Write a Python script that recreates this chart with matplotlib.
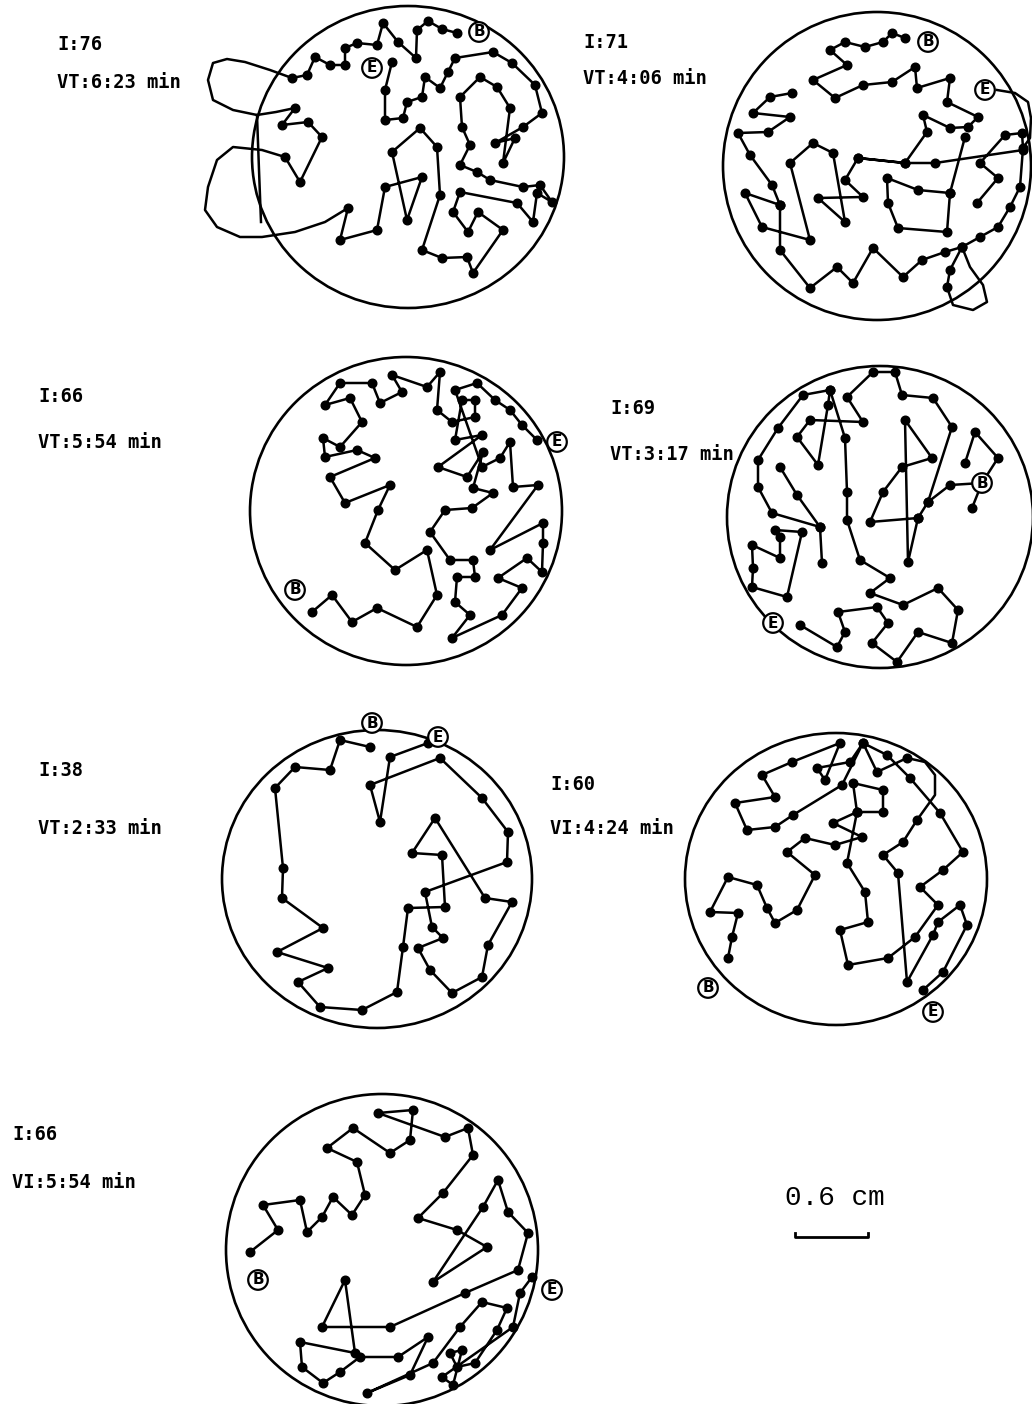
import numpy as np
import matplotlib
matplotlib.use('Agg')
import matplotlib.pyplot as plt
from matplotlib.patches import Ellipse

N = np.nan

# arena outlines: centre x, centre y, width, height (image pixels)
arenas = [(408, 157, 312, 302), (877, 166, 308, 308), (406, 511, 312, 308),
          (880, 517, 306, 302), (377, 879, 310, 298), (836, 879, 302, 292),
          (382, 1250, 312, 312)]

labels_i = ['I:76', 'I:71', 'I:66', 'I:69', 'I:38', 'I:60', 'I:66']
labels_vt = ['VT:6:23 min', 'VT:4:06 min', 'VT:5:54 min', 'VT:3:17 min',
             'VT:2:33 min', 'VI:4:24 min', 'VI:5:54 min']
label_pos = [(57, 45, 82), (583, 42, 78), (38, 397, 443), (610, 408, 455),
             (38, 770, 828), (550, 785, 828), (12, 1135, 1183)]

begin_pos = [(479, 32), (928, 42), (295, 590), (982, 483), (372, 723), (708, 988), (258, 1280)]
end_pos = [(372, 68), (985, 90), (557, 442), (773, 623), (438, 737), (933, 1012), (552, 1290)]

track1 = [(457, 33), (442, 29), (428, 21), (417, 30), (416, 58), (398, 42), (383, 23), (377, 45),
          (357, 43), (345, 48), (345, 65), (330, 65), (315, 57), (307, 75), (292, 78), (N, N),
          (295, 108), (282, 125), (308, 122), (322, 137), (300, 182), (285, 157), (N, N),
          (348, 208), (340, 240), (377, 230), (385, 187), (422, 177), (407, 220), (392, 152),
          (420, 128), (437, 147), (440, 195), (422, 250), (442, 258), (467, 257), (473, 273),
          (503, 230), (478, 212), (468, 232), (453, 212), (460, 192), (517, 203), (533, 222),
          (537, 193), (552, 202), (540, 185), (523, 187), (490, 180), (477, 172), (460, 165),
          (470, 145), (462, 127), (460, 97), (480, 77), (497, 87), (510, 108), (503, 163),
          (515, 138), (495, 143), (523, 127), (542, 113), (535, 85), (512, 63), (493, 52),
          (455, 58), (448, 72), (440, 88), (425, 77), (422, 97), (407, 102), (403, 118),
          (385, 120), (385, 90), (392, 62)]
loops1 = [[(292, 78), (270, 70), (245, 62), (227, 59), (213, 63), (208, 80), (213, 100),
           (233, 110), (257, 115), (276, 112), (295, 108)],
          [(285, 157), (262, 150), (233, 147), (217, 160), (208, 187), (205, 210), (217, 227),
           (240, 237), (262, 237), (295, 232), (325, 222), (348, 208)],
          [(257, 115), (259, 170), (261, 222)]]

track2 = [(905, 38), (892, 33), (883, 42), (865, 47), (845, 42), (830, 50), (847, 65), (813, 80),
          (835, 98), (863, 85), (892, 82), (915, 67), (917, 88), (950, 78), (947, 102), (978, 117),
          (968, 127), (950, 128), (923, 115), (927, 132), (905, 163), (858, 158), (845, 180),
          (863, 197), (818, 198), (845, 222), (833, 153), (813, 143), (790, 163), (810, 240),
          (762, 227), (745, 193), (780, 205), (772, 185), (750, 155), (738, 133), (768, 132),
          (790, 117), (753, 113), (770, 97), (792, 93), (N, N),
          (780, 205), (780, 250), (810, 288), (837, 267), (853, 283), (873, 248), (903, 277),
          (922, 260), (945, 252), (962, 247), (950, 270), (947, 287), (N, N),
          (962, 247), (980, 237), (998, 227), (1010, 207), (1020, 187), (1023, 148), (1022, 133),
          (1005, 135), (980, 163), (998, 178), (977, 203), (N, N),
          (858, 158), (905, 163), (935, 163), (1023, 150), (N, N),
          (965, 137), (950, 193), (947, 232), (898, 228), (888, 203), (887, 178), (918, 190),
          (950, 193)]
loops2 = [[(947, 287), (953, 305), (973, 310), (987, 302), (983, 285), (970, 267), (962, 247)],
          [(997, 90), (1015, 93), (1028, 102), (1031, 118), (1030, 138), (1023, 148)]]

track3 = [(312, 612), (332, 595), (352, 622), (377, 608), (417, 627), (437, 595), (427, 550),
          (395, 570), (365, 543), (378, 510), (390, 485), (345, 503), (330, 477), (375, 458),
          (357, 450), (325, 457), (323, 438), (340, 447), (362, 422), (350, 398), (325, 405),
          (340, 383), (372, 383), (380, 403), (402, 392), (392, 375), (427, 387), (440, 372),
          (437, 410), (452, 422), (475, 417), (475, 400), (462, 400), (455, 440), (482, 435),
          (438, 467), (467, 477), (483, 452), (473, 488), (493, 493), (472, 508), (445, 510),
          (430, 532), (450, 560), (473, 560), (475, 577), (457, 577), (455, 602), (470, 615),
          (452, 638), (502, 615), (522, 588), (498, 578), (527, 558), (542, 572), (543, 543),
          (543, 523), (490, 550), (538, 485), (513, 487), (510, 442), (500, 458), (482, 467),
          (455, 390), (477, 383), (495, 400), (510, 410), (522, 425), (537, 440)]
loops3 = []

track4 = [(972, 508), (982, 483), (998, 458), (975, 432), (965, 463), (N, N),
          (982, 483), (950, 485), (928, 502), (918, 518), (908, 562), (905, 420), (932, 458),
          (902, 467), (883, 492), (870, 522), (918, 518), (N, N),
          (928, 502), (952, 427), (933, 398), (902, 395), (895, 372), (873, 372), (847, 397),
          (863, 422), (810, 420), (797, 437), (818, 465), (828, 405), (830, 390), (845, 438),
          (847, 492), (847, 520), (860, 560), (890, 578), (870, 593), (903, 605), (938, 588),
          (958, 610), (952, 643), (918, 632), (897, 662), (872, 643), (888, 623), (877, 607),
          (838, 612), (845, 632), (837, 647), (800, 625), (N, N),
          (830, 390), (803, 395), (778, 428), (758, 460), (758, 487), (772, 513), (820, 527),
          (822, 563), (N, N),
          (780, 467), (797, 495), (820, 527), (N, N),
          (775, 530), (802, 532), (787, 597), (752, 587), (753, 568), (752, 545), (780, 558),
          (780, 537)]
loops4 = []

track5 = [(370, 747), (340, 740), (330, 770), (295, 767), (275, 788), (283, 868), (282, 898),
          (323, 928), (277, 952), (328, 968), (298, 982), (320, 1007), (362, 1010), (397, 992),
          (403, 947), (408, 908), (445, 907), (442, 855), (412, 853), (435, 818), (485, 898),
          (512, 902), (488, 945), (482, 977), (452, 993), (430, 970), (418, 948), (443, 938),
          (432, 927), (425, 892), (507, 862), (508, 832), (482, 798), (440, 758), (370, 785),
          (380, 822), (390, 757), (428, 743)]
loops5 = []

track6 = [(728, 958), (732, 937), (738, 913), (710, 912), (728, 877), (757, 885), (767, 908),
          (775, 923), (797, 910), (815, 875), (787, 852), (805, 838), (835, 845), (862, 837),
          (833, 823), (857, 812), (853, 783), (883, 790), (883, 812), (857, 812), (847, 863),
          (865, 892), (868, 922), (840, 930), (848, 965), (888, 958), (915, 937), (938, 905),
          (920, 887), (943, 870), (963, 852), (940, 813), (910, 778), (887, 755), (863, 743),
          (850, 762), (817, 768), (825, 780), (840, 743), (792, 762), (762, 775), (775, 797),
          (735, 803), (747, 830), (775, 827), (793, 815), (842, 785), (863, 743), (877, 772),
          (907, 758), (N, N),
          (917, 820), (903, 842), (883, 855), (898, 873), (907, 982), (933, 935), (938, 922),
          (960, 905), (967, 925), (943, 972), (923, 990)]
loops6 = [[(907, 758), (925, 762), (935, 775), (935, 795), (917, 820)]]

track7 = [(250, 1252), (278, 1230), (263, 1205), (300, 1200), (307, 1232), (322, 1217),
          (333, 1197), (352, 1215), (365, 1195), (357, 1162), (327, 1148), (353, 1128),
          (390, 1153), (410, 1140), (413, 1110), (378, 1113), (445, 1137), (468, 1128),
          (473, 1155), (443, 1193), (418, 1218), (457, 1230), (487, 1247), (433, 1282),
          (483, 1207), (498, 1180), (508, 1212), (528, 1233), (518, 1270), (465, 1293),
          (390, 1327), (322, 1327), (345, 1280), (355, 1353), (300, 1342), (302, 1367),
          (323, 1383), (340, 1372), (360, 1357), (398, 1357), (428, 1337), (410, 1375),
          (367, 1393), (433, 1363), (460, 1327), (482, 1302), (507, 1308), (497, 1330),
          (475, 1363), (457, 1367), (450, 1353), (462, 1350), (453, 1385), (442, 1377),
          (513, 1327), (520, 1293), (532, 1277)]
loops7 = []

tracks = [track1, track2, track3, track4, track5, track6, track7]
loops = [loops1, loops2, loops3, loops4, loops5, loops6, loops7]

scale_text = '0.6 cm'
scale_bar = (795, 868, 1237)

fig = plt.figure(figsize=(10.32, 14.04), dpi=100)
ax = fig.add_axes([0, 0, 1, 1])
ax.set_xlim(0, 1032)
ax.set_ylim(1404, 0)
ax.axis('off')

for i in range(7):
    cx, cy, w, h = arenas[i]
    ax.add_patch(Ellipse((cx, cy), w, h, fill=False, lw=1.9, ec='black'))
    xs = [p[0] for p in tracks[i]]
    ys = [p[1] for p in tracks[i]]
    ax.plot(xs, ys, color='black', lw=1.8, marker='o', ms=6.2, mfc='black', mec='black')
    for lp in loops[i]:
        ax.plot([p[0] for p in lp], [p[1] for p in lp], color='black', lw=1.8)
    for pos, letter in ((begin_pos[i], 'B'), (end_pos[i], 'E')):
        ax.text(pos[0], pos[1], letter, ha='center', va='center', fontsize=11,
                fontweight='bold', family='DejaVu Sans',
                bbox=dict(boxstyle='circle,pad=0.15', fc='white', ec='black', lw=1.6))
    lx, ly1, ly2 = label_pos[i]
    ax.text(lx, ly1, labels_i[i], ha='left', va='center', fontsize=13.5,
            fontweight='bold', family='DejaVu Sans Mono')
    ax.text(lx, ly2, labels_vt[i], ha='left', va='center', fontsize=13.5,
            fontweight='bold', family='DejaVu Sans Mono')

# scale bar
x0, x1, yb = scale_bar
ax.plot([x0, x0, x1, x1], [yb - 4, yb, yb, yb - 4], color='black', lw=2)
ax.text((x0 + x1) / 2 + 3, 1198, scale_text, ha='center', va='center', fontsize=20,
        family='Liberation Mono')

fig.savefig('out.png', dpi=100, facecolor='white')
